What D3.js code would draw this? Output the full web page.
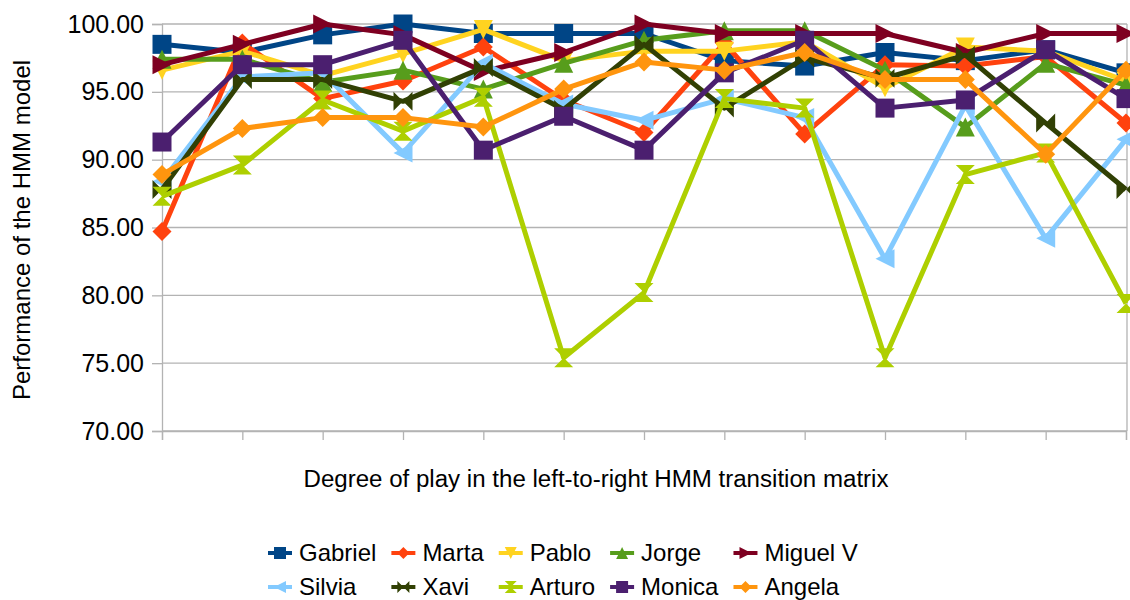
<!DOCTYPE html>
<html>
<head>
<meta charset="utf-8">
<script src="https://cdn.jsdelivr.net/npm/d3@7"></script>
<style>
  html, body { margin: 0; padding: 0; background: #fff; }
  svg { display: block; font-family: "Liberation Sans", Arial, sans-serif; }
</style>
</head>
<body>
<svg id="chart" width="1130" height="600"></svg>
<script>
// Degree-of-play steps along the x axis (unlabelled categories)
const categories = [1, 2, 3, 4, 5, 6, 7, 8, 9, 10, 11, 12, 13];

const seriesNames = ["Gabriel", "Marta", "Pablo", "Jorge", "Miguel V",
                     "Silvia", "Xavi", "Arturo", "Monica", "Angela"];

const gabriel = [98.5, 97.9, 99.2, 100.0, 99.3, 99.3, 99.3, 97.3, 96.9, 97.9, 97.3, 98.1, 96.4];
const marta   = [84.7, 98.6, 94.5, 95.8, 98.3, 94.4, 92.0, 98.6, 91.9, 97.0, 96.9, 97.6, 92.7];
const pablo   = [96.6, 98.0, 96.2, 97.8, 99.6, 97.3, 98.0, 98.0, 98.7, 95.3, 98.3, 98.0, 95.8];
const jorge   = [97.4, 97.4, 95.7, 96.6, 95.2, 97.1, 98.8, 99.5, 99.5, 96.6, 92.4, 97.1, 95.5];
const miguelV = [97.0, 98.5, 100.0, 99.2, 96.5, 97.9, 100.0, 99.3, 99.3, 99.3, 97.9, 99.3, 99.3];
const silvia  = [88.4, 96.1, 96.4, 90.5, 97.1, 94.1, 92.9, 94.5, 93.1, 82.7, 94.0, 84.2, 91.5];
const xavi    = [87.8, 95.9, 95.9, 94.3, 96.8, 93.7, 98.5, 93.8, 97.5, 96.0, 97.7, 92.7, 87.8];
const arturo  = [87.3, 89.6, 94.4, 92.1, 94.6, 75.4, 80.2, 94.5, 93.8, 75.4, 88.9, 90.5, 79.4];
const monica  = [91.3, 97.0, 97.0, 98.8, 90.7, 93.2, 90.7, 96.4, 98.8, 93.8, 94.4, 98.1, 94.5];
const angela  = [88.9, 92.3, 93.1, 93.1, 92.4, 95.2, 97.2, 96.6, 97.9, 95.9, 95.9, 90.4, 96.6];

const seriesValues = [gabriel, marta, pablo, jorge, miguelV, silvia, xavi, arturo, monica, angela];

const colors = ["#004586", "#ff420e", "#ffd320", "#579d1c", "#7e0021",
                "#83caff", "#314004", "#aecf00", "#4b1f6f", "#ff950e"];

const yTicks = [70, 75, 80, 85, 90, 95, 100];

const xTitle = "Degree of play in the left-to-right HMM transition matrix";
const yTitle = "Performance of the HMM model";

// ---- layout ----
const svg = d3.select("#chart");
const plot = { left: 162, right: 1126, top: 24, bottom: 431 };

const x = d3.scalePoint().domain(categories).range([plot.left, plot.right]);
const y = d3.scaleLinear().domain([70, 100]).range([plot.bottom, plot.top]);

const gridColor = "#b3b3b3";

// horizontal grid lines
svg.append("g")
  .selectAll("line")
  .data(yTicks)
  .join("line")
  .attr("x1", plot.left).attr("x2", plot.right + 1)
  .attr("y1", d => y(d)).attr("y2", d => y(d))
  .attr("stroke", gridColor).attr("stroke-width", 1.3);

// right edge of the plot wall
svg.append("line")
  .attr("x1", plot.right + 1).attr("x2", plot.right + 1)
  .attr("y1", plot.top).attr("y2", plot.bottom)
  .attr("stroke", gridColor).attr("stroke-width", 1.3);

// y axis
const yAxis = svg.append("g")
  .attr("transform", `translate(${plot.left},0)`)
  .call(d3.axisLeft(y).tickValues(yTicks).tickSize(10).tickPadding(8)
        .tickFormat(d3.format(".2f")));
yAxis.select(".domain").attr("stroke", gridColor).attr("stroke-width", 1.3);
yAxis.selectAll(".tick line").attr("stroke", gridColor).attr("stroke-width", 1.3);
yAxis.selectAll(".tick text")
  .attr("font-family", "Liberation Sans, Arial, sans-serif")
  .attr("font-size", 25).attr("fill", "#000");

// x axis (categories are not labelled)
const xAxis = svg.append("g")
  .attr("transform", `translate(0,${plot.bottom})`)
  .call(d3.axisBottom(x).tickSize(9).tickFormat(""));
xAxis.select(".domain").attr("stroke", gridColor).attr("stroke-width", 1.3);
xAxis.selectAll(".tick line").attr("stroke", gridColor).attr("stroke-width", 1.3);

// ---- marker shapes ----
function markerPath(kind, h) {
  switch (kind) {
    case 0: return `M${-h},${-h}H${h}V${h}H${-h}Z`;                       // square
    case 1: return `M0,${-h}L${h},0L0,${h}L${-h},0Z`;                    // diamond
    case 2: return `M${-h},${-h}L${h},${-h}L0,${h}Z`;                    // down arrow
    case 3: return `M0,${-h}L${h},${h}L${-h},${h}Z`;                     // up arrow
    case 4: return `M${-h},${-h}L${h},0L${-h},${h}Z`;                    // right arrow
    case 5: return `M${h},${-h}L${-h},0L${h},${h}Z`;                     // left arrow
    case 6: return `M${-h},${-h}L0,0L${-h},${h}Z M${h},${-h}L0,0L${h},${h}Z`; // bow tie
    case 7: return `M${-h},${-h}L${h},${-h}L0,0Z M${-h},${h}L${h},${h}L0,0Z`; // sand glass
  }
}

const line = d3.line()
  .x((d, i) => x(categories[i]))
  .y(d => y(d));

// ---- series: line then markers, later series on top ----
seriesValues.forEach((vals, si) => {
  const g = svg.append("g").attr("class", "series");
  g.append("path")
    .datum(vals)
    .attr("d", line)
    .attr("fill", "none")
    .attr("stroke", colors[si])
    .attr("stroke-width", 5)
    .attr("stroke-linejoin", "round");
  g.selectAll("path.mk")
    .data(vals)
    .join("path")
    .attr("class", "mk")
    .attr("transform", (d, i) => `translate(${x(categories[i])},${y(d)})`)
    .attr("d", markerPath(si % 8, 9.5))
    .attr("fill", colors[si]);
});

// ---- axis titles ----
svg.append("text")
  .attr("x", 596).attr("y", 487)
  .attr("text-anchor", "middle")
  .attr("font-size", 23)
  .attr("textLength", 585)
  .attr("lengthAdjust", "spacingAndGlyphs")
  .attr("fill", "#000")
  .text(xTitle);

svg.append("text")
  .attr("transform", "translate(30,230) rotate(-90)")
  .attr("text-anchor", "middle")
  .attr("font-size", 24)
  .attr("fill", "#000")
  .text(yTitle);

// ---- legend: two rows, five columns ----
const legendRows = 2, legendCols = 5;
const legend = svg.append("g").attr("font-size", 24);
const sampleW = 24, textGap = 7, colGap = 15;
// measure widths to size each column
const measure = legend.append("text").attr("visibility", "hidden");
const widths = seriesNames.map(n => { measure.text(n); return measure.node().getComputedTextLength(); });
measure.remove();
const colW = d3.range(legendCols).map(c =>
  sampleW + textGap + d3.max(d3.range(legendRows), r => widths[r * legendCols + c]) + colGap);
const legendLeft = 268;
const colX = colW.map((w, c) => legendLeft + d3.sum(colW.slice(0, c)));
const rowY = [553, 587];

seriesNames.forEach((name, i) => {
  const r = Math.floor(i / legendCols), c = i % legendCols;
  const gx = colX[c], gy = rowY[r];
  const item = legend.append("g").attr("transform", `translate(${gx},${gy})`);
  item.append("line")
    .attr("x1", 0).attr("x2", sampleW).attr("y1", 0).attr("y2", 0)
    .attr("stroke", colors[i]).attr("stroke-width", 4);
  item.append("path")
    .attr("transform", `translate(${sampleW / 2},0)`)
    .attr("d", markerPath(i % 8, 6))
    .attr("fill", colors[i]);
  item.append("text")
    .attr("x", sampleW + textGap).attr("y", 0)
    .attr("dy", "0.35em")
    .attr("fill", "#000")
    .text(name);
});
</script>
</body>
</html>
